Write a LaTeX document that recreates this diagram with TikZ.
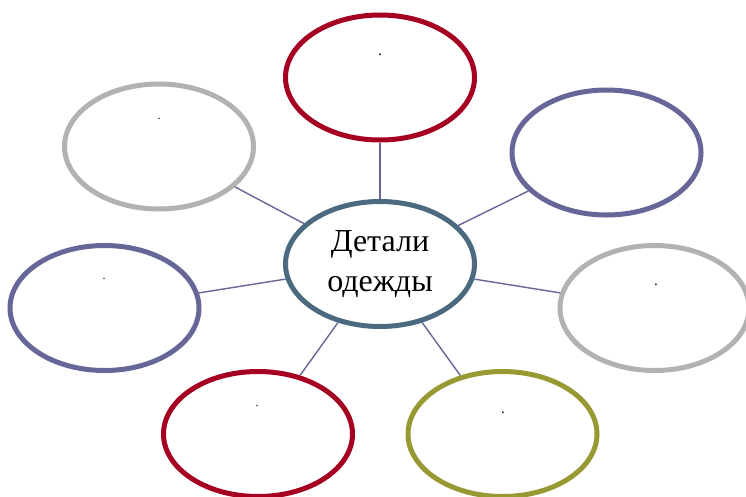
\documentclass[tikz,border=0pt]{standalone}
\usepackage{fontspec}
\setmainfont{Liberation Serif}
\usepackage{xcolor}
\usetikzlibrary{shapes.geometric}
\definecolor{schemered}{RGB}{165,0,33}
\definecolor{schemegray}{RGB}{178,178,178}
\definecolor{schemeblue}{RGB}{102,102,153}
\definecolor{schemeolive}{RGB}{153,153,51}
\definecolor{schemecore}{RGB}{75,106,128}

\begin{document}
\begin{tikzpicture}[x=1pt,y=-1pt,
	bubble/.style={ellipse,draw,fill=white,line width=5pt,minimum width=189pt,minimum height=125pt,inner sep=0pt},
	link/.style={color=schemeblue,line width=1.4pt},
	dot/.style={inner sep=0pt,font=\fontsize{12}{12}\selectfont}]
					\useasboundingbox (0,0) rectangle (746,496);
					\coordinate (o0) at (380,264);
					\coordinate (o1) at (380,77.5);
					\coordinate (o2) at (159,146.5);
					\coordinate (o3) at (606.5,152.5);
					\coordinate (o4) at (104.5,308);
					\coordinate (o5) at (654.5,308);
					\coordinate (o6) at (258,434);
					\coordinate (o7) at (502.5,434);
					
					\node (core) at (o0) [bubble,draw=schemecore,align=center,font=\fontsize{32}{40}\selectfont] {Детали\\одежды};
					\node (top) at (o1) [bubble,draw=schemered] {};
					\node (topleft) at (o2) [bubble,draw=schemegray] {};
					\node (topright) at (o3) [bubble,draw=schemeblue] {};
					\node (left) at (o4) [bubble,draw=schemeblue] {};
					\node (right) at (o5) [bubble,draw=schemegray] {};
					\node (botleft) at (o6) [bubble,draw=schemered] {};
					\node (botright) at (o7) [bubble,draw=schemeolive] {};
					
					\node (dtop) at (380,55) [dot,font=\fontsize{16}{16}\selectfont] {.};
					\node (dtopleft) at (159,119) [dot] {.};
					\node (dleft) at (104,279) [dot] {.};
					\node (dright) at (656,285) [dot,font=\fontsize{15}{15}\selectfont] {.};
					\node (dbotleft) at (257,406) [dot] {.};
					\node (dbotright) at (503,413) [dot,font=\fontsize{15}{15}\selectfont] {.};
					
					\draw[link] (core) to[] (top);
					\draw[link] (core) to[] (topleft);
					\draw[link] (core) to[] (topright);
					\draw[link] (core) to[] (left);
					\draw[link] (core) to[] (right);
					\draw[link] (core) to[] (botleft);
					\draw[link] (core) to[] (botright);
				\end{tikzpicture}
\end{document}
